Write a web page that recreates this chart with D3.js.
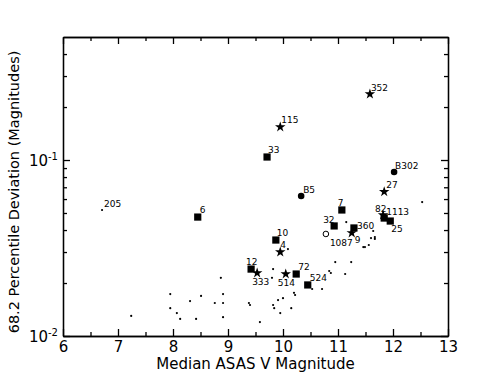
<!DOCTYPE html>
<html>
<head>
<meta charset="utf-8">
<script src="https://cdn.jsdelivr.net/npm/d3@7"></script>
<style>
  body { margin: 0; background: #fff; }
  text { font-family: 'DejaVu Sans', sans-serif; fill: #000; }
  .axis path, .axis line { stroke: #000; stroke-width: 1.3; }
</style>
</head>
<body>
<svg id="chart" width="498" height="374"></svg>
<script>
// labelled stars
const namedLabels = ['205', '6', '33', '115', '352', 'B302', '27', 'B5', '7', '32', '360', '9', '1087', '82', '1113', '25', '10', '4', '12', '333', '514', '72', '524']
const namedMags = [6.71, 8.45, 9.71, 9.95, 11.58, 12.02, 11.84, 10.33, 11.07, 10.93, 11.29, 11.25, 10.78, 11.82, 11.84, 11.95, 9.87, 9.95, 9.42, 9.53, 10.05, 10.24, 10.45]
const namedDevs = [0.052, 0.0474, 0.104, 0.154, 0.237, 0.0855, 0.066, 0.0624, 0.052, 0.0422, 0.0411, 0.0385, 0.038, 0.0487, 0.0468, 0.045, 0.0351, 0.030, 0.024, 0.0228, 0.0225, 0.0225, 0.0195]
const namedKinds = ['dot', 'square', 'square', 'star', 'star', 'circle', 'star', 'circle', 'square', 'square', 'square', 'star', 'open', 'star', 'square', 'square', 'square', 'star', 'square', 'star', 'star', 'square', 'square']

// unlabelled field stars
const fieldMags = [8.87, 7.95, 8.51, 8.31, 8.76, 8.91, 8.91, 7.95, 8.07, 8.13, 8.42, 8.91, 7.24, 9.38, 9.40, 9.58, 9.82, 9.84, 9.91, 9.95, 10.0, 10.15, 10.2, 10.22, 10.53, 10.71, 9.82, 9.80, 10.09, 10.95, 11.24, 10.84, 10.87, 11.13, 11.15, 11.64, 11.67, 11.67, 11.6, 11.56, 11.46, 11.49, 12.53]
const fieldDevs = [0.0214, 0.0173, 0.0169, 0.0158, 0.0154, 0.0173, 0.0154, 0.0144, 0.0135, 0.0125, 0.0125, 0.0128, 0.013, 0.0154, 0.015, 0.012, 0.015, 0.0144, 0.016, 0.0135, 0.0164, 0.0144, 0.0176, 0.0171, 0.0185, 0.0185, 0.024, 0.0214, 0.0312, 0.0263, 0.0263, 0.0234, 0.0228, 0.0225, 0.0444, 0.0395, 0.0365, 0.0356, 0.036, 0.0329, 0.032, 0.032, 0.0577]

const xTicks = [6, 7, 8, 9, 10, 11, 12, 13]
const xMinor = [6.5, 7.5, 8.5, 9.5, 10.5, 11.5, 12.5]
const yTicks = [0.01, 0.1]
const yMinor = [0.02, 0.03, 0.04, 0.05, 0.06, 0.07, 0.08, 0.09, 0.2, 0.3, 0.4]

// label placement relative to the marker (dx, dy of the text start / baseline)
const labelOffset = {
  '205': [2, -3], '6': [2, -4], '33': [1, -4], '115': [1, -4], '352': [1, -3],
  'B302': [1, -3], '27': [2, -4], 'B5': [2, -3], '7': [-4, -4], '32': [-11, -3],
  '360': [3, 1], '9': [3, 10], '1087': [4, 12], '82': [-8, -3], '1113': [2, -3],
  '25': [1, 11], '10': [1, -4], '4': [0, -4], '12': [-5, -4], '333': [-5, 12],
  '514': [-8, 12], '72': [2, -4], '524': [2, -4]
}

const margin = { top: 37, right: 50, bottom: 38, left: 63 }
const width = 498 - margin.left - margin.right
const height = 374 - margin.top - margin.bottom

const svg = d3.select('#chart')
const g = svg.append('g').attr('transform', `translate(${margin.left},${margin.top})`)

const x = d3.scaleLinear().domain([6, 13]).range([0, width])
const y = d3.scaleLog().domain([0.01, 0.5]).range([height, 0])

// axes: major ticks with labels, minor ticks plain, all pointing inward
g.append('g').attr('class', 'axis').attr('transform', `translate(0,${height})`)
  .call(d3.axisBottom(x).tickValues(xTicks).tickFormat(d3.format('d')).tickSize(-7).tickSizeOuter(0).tickPadding(5))
g.append('g').attr('class', 'axis').attr('transform', `translate(0,${height})`)
  .call(d3.axisBottom(x).tickValues(xMinor).tickFormat('').tickSize(-4).tickSizeOuter(0))
g.append('g').attr('class', 'axis')
  .call(d3.axisTop(x).tickValues(xTicks).tickFormat('').tickSize(-7).tickSizeOuter(0))
g.append('g').attr('class', 'axis')
  .call(d3.axisTop(x).tickValues(xMinor).tickFormat('').tickSize(-4).tickSizeOuter(0))

const yAxis = g.append('g').attr('class', 'axis')
  .call(d3.axisLeft(y).tickValues(yTicks).tickFormat('').tickSize(-7).tickSizeOuter(0).tickPadding(12))
g.append('g').attr('class', 'axis')
  .call(d3.axisLeft(y).tickValues(yMinor).tickFormat('').tickSize(-4).tickSizeOuter(0))
g.append('g').attr('class', 'axis').attr('transform', `translate(${width},0)`)
  .call(d3.axisRight(y).tickValues(yTicks).tickFormat('').tickSize(-7).tickSizeOuter(0))
g.append('g').attr('class', 'axis').attr('transform', `translate(${width},0)`)
  .call(d3.axisRight(y).tickValues(yMinor).tickFormat('').tickSize(-4).tickSizeOuter(0))

g.selectAll('.axis text').attr('font-size', 15).attr('font-family', 'DejaVu Sans')

// 10^n labels on the log axis
yAxis.selectAll('.tick').each(function (d) {
  const t = d3.select(this).select('text')
  t.attr('font-size', 15).attr('x', -5).attr('dy', '0.35em')
  t.append('tspan').text('10')
  t.append('tspan').attr('dy', '-0.55em').attr('font-size', 10).text(Math.round(Math.log10(d)))
})

// field stars
g.append('g').selectAll('circle')
  .data(fieldMags.map((m, i) => ({ m, d: fieldDevs[i] })))
  .join('circle')
  .attr('cx', p => x(p.m))
  .attr('cy', p => y(p.d))
  .attr('r', 1.1)
  .attr('fill', '#000')

// named stars
const named = namedLabels.map((name, i) => ({ name, m: namedMags[i], d: namedDevs[i], kind: namedKinds[i] }))
const marks = g.append('g')
named.forEach(function (p) {
  const px = x(p.m), py = y(p.d)
  if (p.kind === 'dot') {
    marks.append('circle').attr('cx', px).attr('cy', py).attr('r', 1.1).attr('fill', '#000')
  } else if (p.kind === 'circle') {
    marks.append('circle').attr('cx', px).attr('cy', py).attr('r', 3.3).attr('fill', '#000')
  } else if (p.kind === 'open') {
    marks.append('circle').attr('cx', px).attr('cy', py).attr('r', 2.8).attr('fill', 'none').attr('stroke', '#000').attr('stroke-width', 1)
  } else {
    const type = p.kind === 'square' ? d3.symbolSquare : d3.symbolStar
    const size = p.kind === 'square' ? 52 : 34
    marks.append('path')
      .attr('d', d3.symbol().type(type).size(size))
      .attr('transform', `translate(${px},${py})`)
      .attr('fill', '#000')
  }
  const off = labelOffset[p.name]
  marks.append('text')
    .attr('x', px + off[0])
    .attr('y', py + off[1])
    .attr('font-size', 9)
    .text(p.name)
})

// axis titles
svg.append('text')
  .attr('x', margin.left + width / 2)
  .attr('y', 369)
  .attr('text-anchor', 'middle')
  .attr('font-size', 15)
  .text('Median ASAS V Magnitude')

svg.append('text')
  .attr('transform', `translate(19,192) rotate(-90)`)
  .attr('text-anchor', 'middle')
  .attr('font-size', 14.5)
  .text('68.2 Percentile Deviation (Magnitudes)')
</script>
</body>
</html>
